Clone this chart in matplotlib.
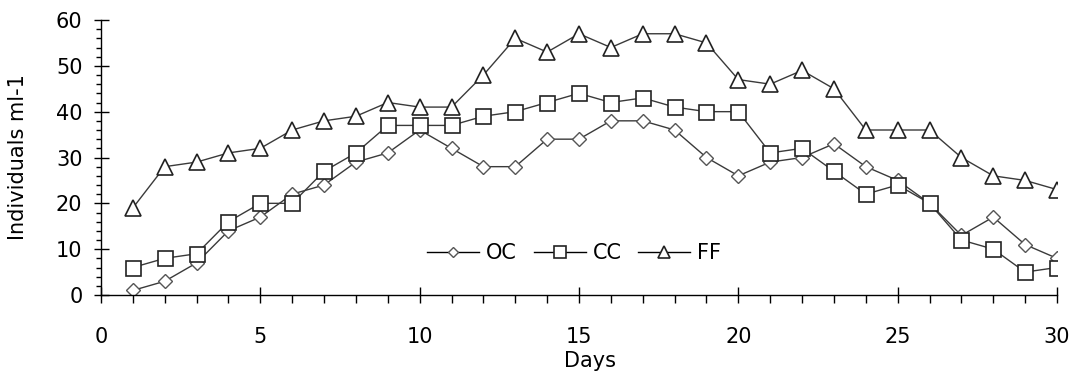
import matplotlib
matplotlib.use("Agg")
import matplotlib.pyplot as plt
from matplotlib.ticker import MultipleLocator

days = list(range(1, 31))
oc = [1, 3, 7, 14, 17, 22, 24, 29, 31, 36, 32, 28, 28, 34, 34, 38, 38, 36, 30, 26,
      29, 30, 33, 28, 25, 20, 13, 17, 11, 8]
cc = [6, 8, 9, 16, 20, 20, 27, 31, 37, 37, 37, 39, 40, 42, 44, 42, 43, 41, 40, 40,
      31, 32, 27, 22, 24, 20, 12, 10, 5, 6]
ff = [19, 28, 29, 31, 32, 36, 38, 39, 42, 41, 41, 48, 56, 53, 57, 54, 57, 57, 55, 47,
      46, 49, 45, 36, 36, 36, 30, 26, 25, 23]
series_names = ["OC", "CC", "FF"]

plt.rcParams['font.family'] = ['DejaVu Sans']
fig = plt.figure(figsize=(10.74, 3.74), dpi=100)
ax = fig.add_axes([101/1074, 1 - 295/374, (1057 - 101)/1074, (295 - 20)/374])

lc = '#3a3a3a'
ax.plot(days, oc, color=lc, lw=1, marker='D', ms=6.8, mfc='white', mec='#555555', mew=1, label=series_names[0])
ax.plot(days, cc, color=lc, lw=1, marker='s', ms=10.8, mfc='white', mec='#222222', mew=1.2, label=series_names[1])
ax.plot(days, ff, color=lc, lw=1, marker='^', ms=11.5, mfc='white', mec='#222222', mew=1.2, label=series_names[2])

ax.set_xlim(0, 30)
ax.set_ylim(0, 60)
for s in ['top', 'right']:
    ax.spines[s].set_visible(False)
for s in ['left', 'bottom']:
    ax.spines[s].set_color('black')
    ax.spines[s].set_linewidth(1)

ax.xaxis.set_major_locator(MultipleLocator(5))
ax.xaxis.set_minor_locator(MultipleLocator(1))
ax.yaxis.set_major_locator(MultipleLocator(10))
ax.yaxis.set_minor_locator(MultipleLocator(2))
ax.tick_params(axis='x', which='major', direction='inout', length=11.5, width=1, pad=17, labelsize=15)
ax.tick_params(axis='x', which='minor', direction='out', length=5.8, width=1)
ax.tick_params(axis='y', which='major', direction='inout', length=10.8, width=1, pad=8, labelsize=15)
ax.tick_params(axis='y', which='minor', direction='out', length=3.6, width=1)

ax.set_xlabel("Days", fontsize=15)
ax.xaxis.set_label_coords(0.512, -0.205)
ax.set_ylabel("Individuals ml-1", fontsize=15)
ax.yaxis.set_label_coords(-0.076, 0.5)

leg = ax.legend(loc='center', bbox_to_anchor=(0.495, 0.153), ncol=3, frameon=False,
                fontsize=15, handlelength=2.5, handletextpad=0.33, columnspacing=0.8,
                markerscale=0.78)
for h in leg.get_lines():
    h.set_color('black')

fig.savefig("out.png", dpi=100)
